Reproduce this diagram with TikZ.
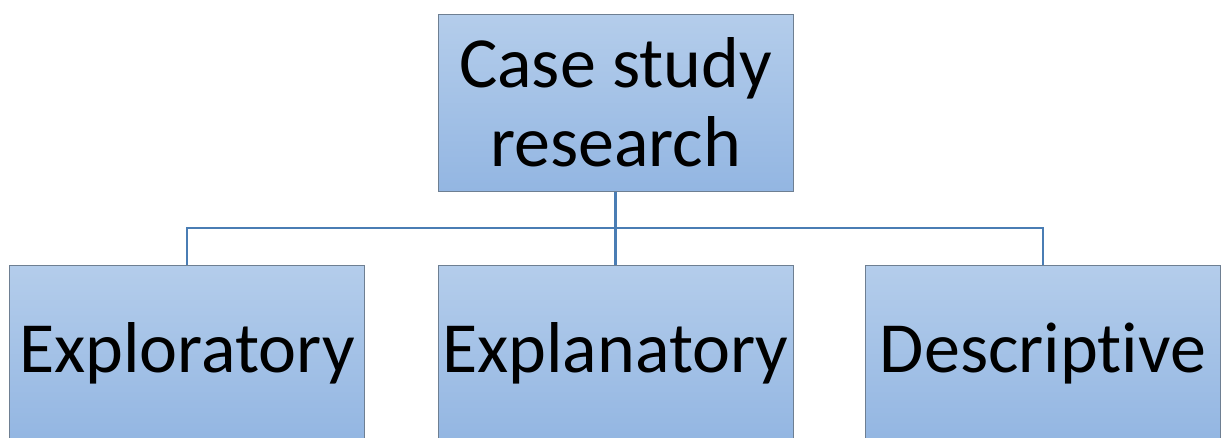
\documentclass[tikz,border=0pt]{standalone}
\usepackage{fontspec}
\setmainfont[Ligatures=NoCommon]{Carlito}
\definecolor{boxtop}{HTML}{B4CDEB}
\definecolor{boxbot}{HTML}{93B6E2}
\definecolor{boxline}{HTML}{6E7F92}
\definecolor{wire}{HTML}{4A7DB4}
\begin{document}
\begin{tikzpicture}[x=0.75pt,y=-0.75pt,
  orgbox/.style={rectangle, draw=boxline, line width=0.75pt,
    top color=boxtop, bottom color=boxbot, inner sep=0pt,
    minimum width=266.25pt, minimum height=132.75pt,
    font=\fontsize{54}{59}\selectfont, align=center},
  wireline/.style={draw=wire, line width=1.6pt}]
  \useasboundingbox (0,0) rectangle (1224,437);
  \clip (0,0) rectangle (1224,437);
  \fill[white] (0,0) rectangle (1224,437);
  % root and the three kinds of case study
  \node[orgbox] (root) at (615.5,102.5) {Case study\\research};
  \node[orgbox] (expl) at (187,353.5) {Exploratory};
  \node[orgbox] (expn) at (615.5,353.5) {Explanatory};
  % kern keeps t and i as separate glyphs
  \node[orgbox] (desc) at (1043,353.5) {Descript\kern0pt ive};
  % tree connectors through a common bus line
  \coordinate (bus) at (615.5,228);
  \draw[wireline] (root.south) -- (bus);
  \draw[wireline] (expl.north) |- (bus) -| (desc.north);
  \draw[wireline] (expn.north) -- (bus);
\end{tikzpicture}
\end{document}
